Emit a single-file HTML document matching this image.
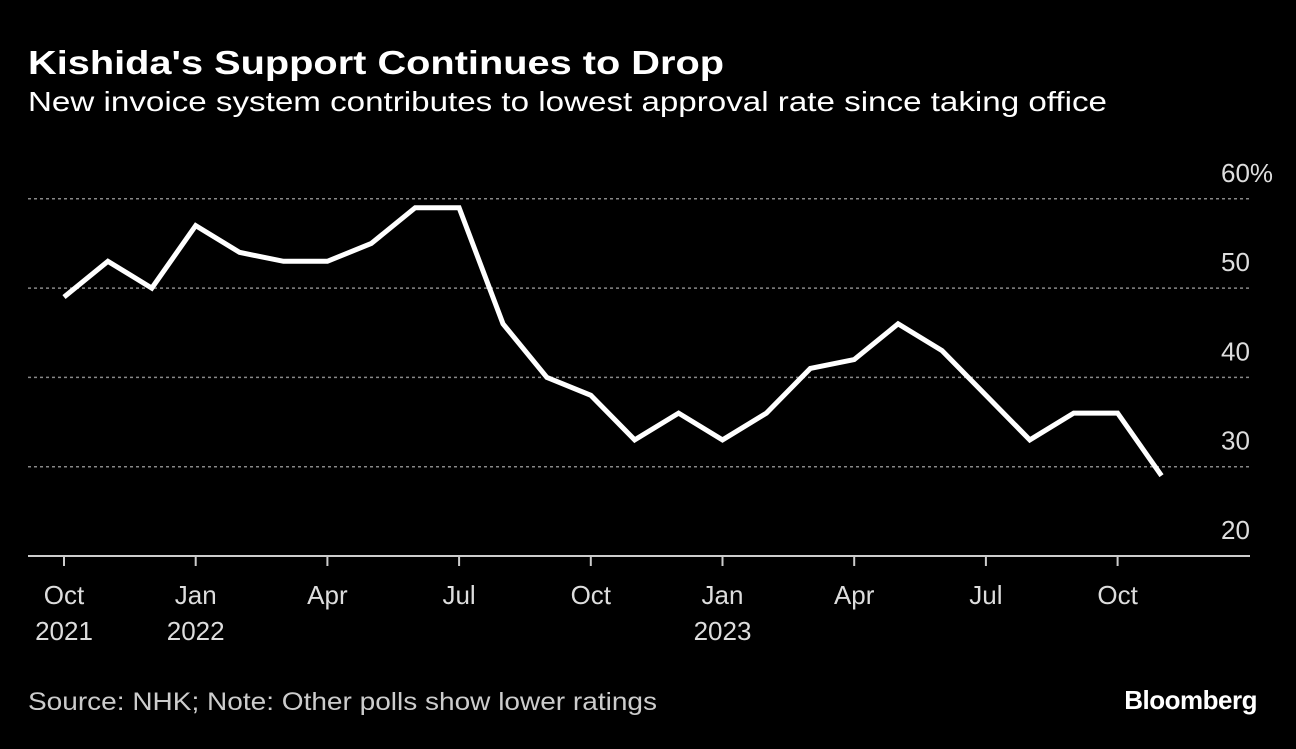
<!DOCTYPE html>
<html><head><meta charset="utf-8"><style>
body{margin:0;background:#000;width:1296px;height:744px;overflow:hidden;font-family:"Liberation Sans",sans-serif;color:#fff}
</style></head><body>
<svg width="1296" height="744">
<text x="28" y="74" font-size="33" font-weight="bold" fill="#fff" textLength="696" lengthAdjust="spacingAndGlyphs">Kishida's Support Continues to Drop</text>
<text x="28" y="111" font-size="28" fill="#fff" textLength="1079" lengthAdjust="spacingAndGlyphs">New invoice system contributes to lowest approval rate since taking office</text>
<g id="grid"></g><g id="xaxis"></g>
<polyline id="line" fill="none" stroke="#fff" stroke-width="5" stroke-linejoin="miter"/>
<text x="28" y="710" font-size="25" fill="#ccc" textLength="629" lengthAdjust="spacingAndGlyphs">Source: NHK; Note: Other polls show lower ratings</text>
<text x="1257" y="709" font-size="26" font-weight="bold" fill="#fff" text-anchor="end" letter-spacing="-0.5">Bloomberg</text>
</svg>
<script>
const values=[49,53,50,57,54,53,53,55,59,59,46,40,38,33,36,33,36,41,42,46,43,38,33,36,36,29];
const yTicks=[20,30,40,50,60];
const xLabels=[["Oct","2021"],["Jan","2022"],["Apr",""],["Jul",""],["Oct",""],["Jan","2023"],["Apr",""],["Jul",""],["Oct",""]];
const ns="http://www.w3.org/2000/svg";
const y=v=>556-(v-20)*8.93;
const x=i=>64+i*43.9;
function mk(t,a,p){const e=document.createElementNS(ns,t);for(const k in a)e.setAttribute(k,a[k]);p.appendChild(e);return e;}
const g=document.getElementById('grid');
yTicks.forEach(v=>{
 if(v>20){const l=mk('line',{x1:28,x2:1250,y1:y(v),y2:y(v),stroke:'#888','stroke-width':1.5,'stroke-dasharray':'3,3'},g);
 
 }
 const t=mk('text',{x:1221,y:y(v)-17,'font-size':26,fill:'#ddd'},g);
 t.textContent=v+(v===60?'%':'');
 
 
});
const xa=document.getElementById('xaxis');
const b=mk('line',{x1:28,x2:1250,y1:556,y2:556,stroke:'#ccc','stroke-width':2},xa);


xLabels.forEach((lb,k)=>{
 const xx=x(k*3);
 const tk=mk('line',{x1:xx,x2:xx,y1:556,y2:566,stroke:'#ccc','stroke-width':2},xa);
 
 
 const t=mk('text',{x:xx,y:604,'font-size':26,fill:'#ddd','text-anchor':'middle'},xa);
 t.textContent=lb[0];
 
 
 if(lb[1]){const t2=mk('text',{x:xx,y:640,'font-size':26,fill:'#ddd','text-anchor':'middle'},xa);
 t2.textContent=lb[1];
 
 }
});
document.getElementById('line').setAttribute('points',values.map((v,i)=>x(i)+','+y(v)).join(' '));
</script>
</body></html>
